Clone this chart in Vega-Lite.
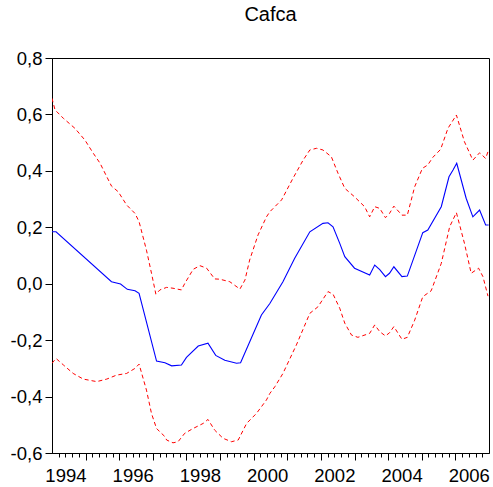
{
  "$schema": "https://vega.github.io/schema/vega-lite/v6.json",
  "width": 437,
  "height": 395,
  "autosize": {"type": "none"},
  "padding": {"left": 52, "top": 58, "right": 4, "bottom": 34},
  "background": "white",
  "title": {"text": "Cafca", "fontSize": 20, "fontWeight": "normal", "font": "Liberation Sans Narrow, Arial Narrow, Liberation Sans", "color": "black", "offset": 24, "anchor": "middle"},
  "config": {
    "view": {"stroke": "black", "strokeWidth": 1},
    "axis": {"grid": false, "domainColor": "black", "tickColor": "black", "labelColor": "black", "labelFont": "Liberation Sans Narrow, Arial Narrow, Liberation Sans", "labelFontSize": 18.5, "title": null}
  },
  "datasets": {
    "series": [
      {"s": "mid", "t": 1994.0, "v": 0.184},
      {"s": "mid", "t": 1994.12, "v": 0.184},
      {"s": "mid", "t": 1995.77, "v": 0.007},
      {"s": "mid", "t": 1996.04, "v": -0.001},
      {"s": "mid", "t": 1996.24, "v": -0.02},
      {"s": "mid", "t": 1996.47, "v": -0.025},
      {"s": "mid", "t": 1996.59, "v": -0.034},
      {"s": "mid", "t": 1997.11, "v": -0.274},
      {"s": "mid", "t": 1997.36, "v": -0.28},
      {"s": "mid", "t": 1997.56, "v": -0.291},
      {"s": "mid", "t": 1997.85, "v": -0.288},
      {"s": "mid", "t": 1998.0, "v": -0.261},
      {"s": "mid", "t": 1998.35, "v": -0.221},
      {"s": "mid", "t": 1998.64, "v": -0.211},
      {"s": "mid", "t": 1998.87, "v": -0.254},
      {"s": "mid", "t": 1999.14, "v": -0.271},
      {"s": "mid", "t": 1999.49, "v": -0.282},
      {"s": "mid", "t": 1999.61, "v": -0.28},
      {"s": "mid", "t": 2000.23, "v": -0.111},
      {"s": "mid", "t": 2000.48, "v": -0.07},
      {"s": "mid", "t": 2000.87, "v": 0.007},
      {"s": "mid", "t": 2001.22, "v": 0.09},
      {"s": "mid", "t": 2001.67, "v": 0.184},
      {"s": "mid", "t": 2002.06, "v": 0.214},
      {"s": "mid", "t": 2002.21, "v": 0.216},
      {"s": "mid", "t": 2002.36, "v": 0.202},
      {"s": "mid", "t": 2002.56, "v": 0.143},
      {"s": "mid", "t": 2002.71, "v": 0.096},
      {"s": "mid", "t": 2003.0, "v": 0.055},
      {"s": "mid", "t": 2003.45, "v": 0.031},
      {"s": "mid", "t": 2003.6, "v": 0.066},
      {"s": "mid", "t": 2003.75, "v": 0.05},
      {"s": "mid", "t": 2003.92, "v": 0.025},
      {"s": "mid", "t": 2004.04, "v": 0.037},
      {"s": "mid", "t": 2004.17, "v": 0.06},
      {"s": "mid", "t": 2004.41, "v": 0.025},
      {"s": "mid", "t": 2004.57, "v": 0.027},
      {"s": "mid", "t": 2005.03, "v": 0.181},
      {"s": "mid", "t": 2005.18, "v": 0.19},
      {"s": "mid", "t": 2005.58, "v": 0.273},
      {"s": "mid", "t": 2005.81, "v": 0.379},
      {"s": "mid", "t": 2005.93, "v": 0.403},
      {"s": "mid", "t": 2006.04, "v": 0.427},
      {"s": "mid", "t": 2006.32, "v": 0.303},
      {"s": "mid", "t": 2006.52, "v": 0.237},
      {"s": "mid", "t": 2006.72, "v": 0.261},
      {"s": "mid", "t": 2006.9, "v": 0.208},
      {"s": "mid", "t": 2006.99, "v": 0.208},

      {"s": "up", "t": 1994.0, "v": 0.657},
      {"s": "up", "t": 1994.09, "v": 0.616},
      {"s": "up", "t": 1994.34, "v": 0.586},
      {"s": "up", "t": 1994.68, "v": 0.551},
      {"s": "up", "t": 1994.98, "v": 0.509},
      {"s": "up", "t": 1995.23, "v": 0.462},
      {"s": "up", "t": 1995.43, "v": 0.427},
      {"s": "up", "t": 1995.63, "v": 0.379},
      {"s": "up", "t": 1995.77, "v": 0.346},
      {"s": "up", "t": 1995.97, "v": 0.326},
      {"s": "up", "t": 1996.22, "v": 0.279},
      {"s": "up", "t": 1996.47, "v": 0.249},
      {"s": "up", "t": 1996.59, "v": 0.22},
      {"s": "up", "t": 1996.81, "v": 0.119},
      {"s": "up", "t": 1996.96, "v": 0.037},
      {"s": "up", "t": 1997.09, "v": -0.037},
      {"s": "up", "t": 1997.21, "v": -0.022},
      {"s": "up", "t": 1997.41, "v": -0.013},
      {"s": "up", "t": 1997.6, "v": -0.016},
      {"s": "up", "t": 1997.85, "v": -0.022},
      {"s": "up", "t": 1997.95, "v": 0.001},
      {"s": "up", "t": 1998.2, "v": 0.051},
      {"s": "up", "t": 1998.4, "v": 0.064},
      {"s": "up", "t": 1998.6, "v": 0.055},
      {"s": "up", "t": 1998.84, "v": 0.017},
      {"s": "up", "t": 1998.99, "v": 0.016},
      {"s": "up", "t": 1999.29, "v": 0.007},
      {"s": "up", "t": 1999.59, "v": -0.019},
      {"s": "up", "t": 1999.74, "v": 0.013},
      {"s": "up", "t": 1999.88, "v": 0.084},
      {"s": "up", "t": 2000.13, "v": 0.173},
      {"s": "up", "t": 2000.38, "v": 0.237},
      {"s": "up", "t": 2000.48, "v": 0.255},
      {"s": "up", "t": 2000.83, "v": 0.297},
      {"s": "up", "t": 2001.17, "v": 0.374},
      {"s": "up", "t": 2001.47, "v": 0.438},
      {"s": "up", "t": 2001.67, "v": 0.474},
      {"s": "up", "t": 2001.87, "v": 0.48},
      {"s": "up", "t": 2002.06, "v": 0.474},
      {"s": "up", "t": 2002.31, "v": 0.45},
      {"s": "up", "t": 2002.51, "v": 0.391},
      {"s": "up", "t": 2002.71, "v": 0.338},
      {"s": "up", "t": 2003.0, "v": 0.308},
      {"s": "up", "t": 2003.3, "v": 0.273},
      {"s": "up", "t": 2003.45, "v": 0.237},
      {"s": "up", "t": 2003.6, "v": 0.273},
      {"s": "up", "t": 2003.75, "v": 0.267},
      {"s": "up", "t": 2003.92, "v": 0.234},
      {"s": "up", "t": 2004.04, "v": 0.249},
      {"s": "up", "t": 2004.17, "v": 0.275},
      {"s": "up", "t": 2004.41, "v": 0.243},
      {"s": "up", "t": 2004.57, "v": 0.243},
      {"s": "up", "t": 2004.79, "v": 0.344},
      {"s": "up", "t": 2005.02, "v": 0.409},
      {"s": "up", "t": 2005.18, "v": 0.421},
      {"s": "up", "t": 2005.33, "v": 0.448},
      {"s": "up", "t": 2005.56, "v": 0.476},
      {"s": "up", "t": 2005.78, "v": 0.551},
      {"s": "up", "t": 2006.03, "v": 0.598},
      {"s": "up", "t": 2006.27, "v": 0.503},
      {"s": "up", "t": 2006.52, "v": 0.438},
      {"s": "up", "t": 2006.72, "v": 0.464},
      {"s": "up", "t": 2006.9, "v": 0.444},
      {"s": "up", "t": 2006.97, "v": 0.468},

      {"s": "lo", "t": 1994.0, "v": -0.282},
      {"s": "lo", "t": 1994.12, "v": -0.265},
      {"s": "lo", "t": 1994.34, "v": -0.288},
      {"s": "lo", "t": 1994.63, "v": -0.318},
      {"s": "lo", "t": 1994.93, "v": -0.338},
      {"s": "lo", "t": 1995.33, "v": -0.347},
      {"s": "lo", "t": 1995.63, "v": -0.338},
      {"s": "lo", "t": 1995.92, "v": -0.324},
      {"s": "lo", "t": 1996.22, "v": -0.318},
      {"s": "lo", "t": 1996.47, "v": -0.3},
      {"s": "lo", "t": 1996.59, "v": -0.285},
      {"s": "lo", "t": 1996.81, "v": -0.377},
      {"s": "lo", "t": 1996.96, "v": -0.46},
      {"s": "lo", "t": 1997.11, "v": -0.513},
      {"s": "lo", "t": 1997.21, "v": -0.525},
      {"s": "lo", "t": 1997.36, "v": -0.542},
      {"s": "lo", "t": 1997.41, "v": -0.554},
      {"s": "lo", "t": 1997.6, "v": -0.564},
      {"s": "lo", "t": 1997.75, "v": -0.56},
      {"s": "lo", "t": 1997.95, "v": -0.53},
      {"s": "lo", "t": 1998.2, "v": -0.513},
      {"s": "lo", "t": 1998.5, "v": -0.495},
      {"s": "lo", "t": 1998.64, "v": -0.481},
      {"s": "lo", "t": 1998.84, "v": -0.519},
      {"s": "lo", "t": 1999.09, "v": -0.548},
      {"s": "lo", "t": 1999.34, "v": -0.56},
      {"s": "lo", "t": 1999.54, "v": -0.554},
      {"s": "lo", "t": 1999.79, "v": -0.495},
      {"s": "lo", "t": 2000.08, "v": -0.46},
      {"s": "lo", "t": 2000.38, "v": -0.412},
      {"s": "lo", "t": 2000.48, "v": -0.389},
      {"s": "lo", "t": 2000.63, "v": -0.365},
      {"s": "lo", "t": 2000.87, "v": -0.318},
      {"s": "lo", "t": 2001.27, "v": -0.217},
      {"s": "lo", "t": 2001.67, "v": -0.105},
      {"s": "lo", "t": 2001.91, "v": -0.082},
      {"s": "lo", "t": 2002.21, "v": -0.028},
      {"s": "lo", "t": 2002.36, "v": -0.037},
      {"s": "lo", "t": 2002.56, "v": -0.087},
      {"s": "lo", "t": 2002.71, "v": -0.14},
      {"s": "lo", "t": 2002.91, "v": -0.182},
      {"s": "lo", "t": 2003.1, "v": -0.19},
      {"s": "lo", "t": 2003.45, "v": -0.176},
      {"s": "lo", "t": 2003.6, "v": -0.146},
      {"s": "lo", "t": 2003.75, "v": -0.17},
      {"s": "lo", "t": 2003.92, "v": -0.185},
      {"s": "lo", "t": 2004.04, "v": -0.174},
      {"s": "lo", "t": 2004.17, "v": -0.152},
      {"s": "lo", "t": 2004.41, "v": -0.197},
      {"s": "lo", "t": 2004.57, "v": -0.19},
      {"s": "lo", "t": 2004.79, "v": -0.129},
      {"s": "lo", "t": 2005.03, "v": -0.046},
      {"s": "lo", "t": 2005.28, "v": -0.025},
      {"s": "lo", "t": 2005.58, "v": 0.072},
      {"s": "lo", "t": 2005.83, "v": 0.202},
      {"s": "lo", "t": 2006.03, "v": 0.252},
      {"s": "lo", "t": 2006.27, "v": 0.143},
      {"s": "lo", "t": 2006.47, "v": 0.037},
      {"s": "lo", "t": 2006.69, "v": 0.055},
      {"s": "lo", "t": 2006.82, "v": 0.025},
      {"s": "lo", "t": 2006.97, "v": -0.044}
    ]
  },
  "data": {"name": "series"},
  "layer": [
    {
      "transform": [{"filter": "datum.s === 'mid'"}],
      "mark": {"type": "line", "color": "#0000ff", "strokeWidth": 1.1, "clip": true},
      "encoding": {
        "x": {"field": "t", "type": "quantitative", "scale": {"domain": [1994, 2007], "nice": false, "zero": false},
          "axis": {"orient": "bottom", "values": [1994.4, 1996.4, 1998.4, 2000.4, 2002.4, 2004.4, 2006.4], "ticks": false, "tickSize": 0, "domain": false, "labelPadding": 13, "labelExpr": "floor(datum.value)", "labelFlush": false, "labelOverlap": false}},
        "y": {"field": "v", "type": "quantitative", "scale": {"domain": [-0.6, 0.8], "nice": false, "zero": false},
          "axis": {"values": [-0.6, -0.4, -0.2, 0, 0.2, 0.4, 0.6, 0.8], "tickSize": 7, "labelPadding": 3, "labelExpr": "replace(replace(format(datum.value, '.1f'), '.', ','), '\u2212', '-')", "labelFlush": false, "labelOverlap": false}}
      }
    },
    {
      "transform": [{"filter": "datum.s === 'up'"}],
      "mark": {"type": "line", "color": "#ff0000", "strokeWidth": 1, "strokeDash": [4, 3], "clip": true},
      "encoding": {
        "x": {"field": "t", "type": "quantitative", "scale": {"domain": [1994, 2007], "nice": false, "zero": false},
          "axis": {"orient": "bottom", "values": [1995, 1996, 1997, 1998, 1999, 2000, 2001, 2002, 2003, 2004, 2005, 2006], "tickSize": 7, "labels": false, "domain": true}},
        "y": {"field": "v", "type": "quantitative", "scale": {"domain": [-0.6, 0.8], "nice": false, "zero": false},
          "axis": {"values": [-0.6, -0.4, -0.2, 0, 0.2, 0.4, 0.6, 0.8], "tickSize": 7, "labelPadding": 3, "labelExpr": "replace(replace(format(datum.value, '.1f'), '.', ','), '\u2212', '-')", "labelFlush": false, "labelOverlap": false}}
      }
    },
    {
      "transform": [{"filter": "datum.s === 'lo'"}],
      "mark": {"type": "line", "color": "#ff0000", "strokeWidth": 1, "strokeDash": [4, 3], "clip": true},
      "encoding": {
        "x": {"field": "t", "type": "quantitative", "scale": {"domain": [1994, 2007], "nice": false, "zero": false},
          "axis": {"orient": "bottom", "values": [1994.2, 1994.4, 1994.6, 1994.8, 1995.2, 1995.4, 1995.6, 1995.8, 1996.2, 1996.4, 1996.6, 1996.8, 1997.2, 1997.4, 1997.6, 1997.8, 1998.2, 1998.4, 1998.6, 1998.8, 1999.2, 1999.4, 1999.6, 1999.8, 2000.2, 2000.4, 2000.6, 2000.8, 2001.2, 2001.4, 2001.6, 2001.8, 2002.2, 2002.4, 2002.6, 2002.8, 2003.2, 2003.4, 2003.6, 2003.8, 2004.2, 2004.4, 2004.6, 2004.8, 2005.2, 2005.4, 2005.6, 2005.8, 2006.2, 2006.4, 2006.6, 2006.8], "tickSize": 4, "labels": false, "domain": false}},
        "y": {"field": "v", "type": "quantitative", "scale": {"domain": [-0.6, 0.8], "nice": false, "zero": false},
          "axis": {"values": [-0.6, -0.4, -0.2, 0, 0.2, 0.4, 0.6, 0.8], "tickSize": 7, "labelPadding": 3, "labelExpr": "replace(replace(format(datum.value, '.1f'), '.', ','), '\u2212', '-')", "labelFlush": false, "labelOverlap": false}}
      }
    }
  ],
  "resolve": {"axis": {"x": "independent"}}
}
